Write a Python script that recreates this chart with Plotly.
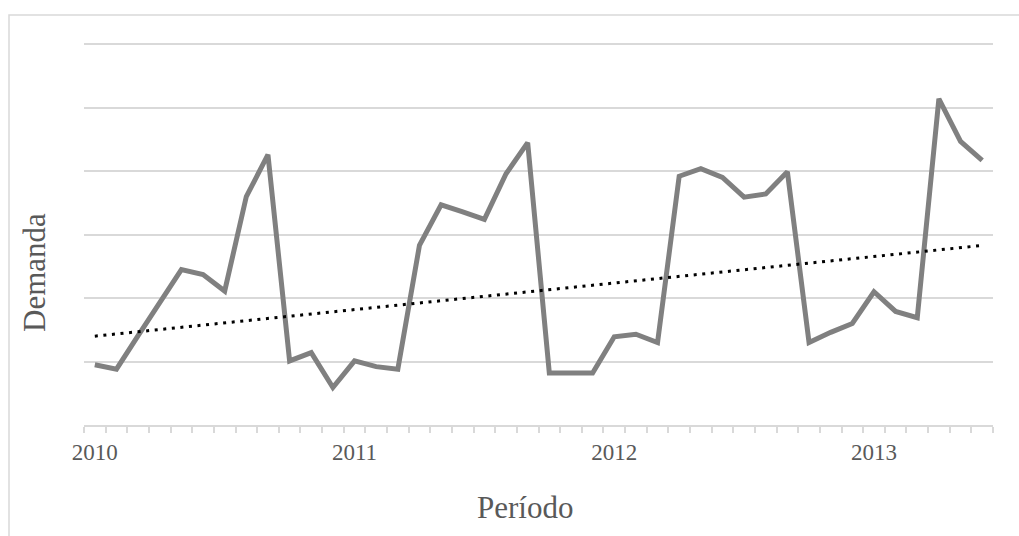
import plotly.graph_objects as go

# Monthly demand, Jan 2010 .. Jun 2013 (42 months)
demanda = [95, 88, 141, 193, 245, 237, 211, 360, 426, 101, 114, 59,
           101, 92, 88, 283, 347, 336, 324, 396, 445, 82, 82, 82,
           139, 143, 130, 392, 404, 390, 359, 364, 399, 130, 146, 160,
           210, 179, 169, 514, 447, 417]
meses = list(range(1, len(demanda) + 1))
anos = ["2010", "2011", "2012", "2013"]
ano_pos = [1, 13, 25, 37]

# linear trendline, end values
tendencia_x = [1, len(demanda)]
tendencia_y = [140, 283]

FONT = "Liberation Serif, Times New Roman, serif"
GRID = "#d9d9d9"
TXT = "#595959"

fig = go.Figure()
fig.add_trace(go.Scatter(x=meses, y=demanda, mode="lines",
                         line=dict(color="#808080", width=5),
                         showlegend=False))
fig.add_trace(go.Scatter(x=tendencia_x, y=tendencia_y, mode="lines",
                         line=dict(color="black", width=3, dash="3px,5.6px"),
                         showlegend=False))

fig.update_layout(
    width=1019, height=536,
    margin=dict(l=84, r=26, t=43, b=111),
    paper_bgcolor="white", plot_bgcolor="white",
    font=dict(family=FONT, color=TXT),
    xaxis=dict(range=[0.5, len(demanda) + 0.5], tickvals=ano_pos, ticktext=anos,
               ticks="", showgrid=False, zeroline=False,
               showline=True, linecolor=GRID, linewidth=1.5,
               ticklabelstandoff=6,
               tickfont=dict(size=23, family=FONT, color=TXT),
               minor=dict(tickvals=[m - 0.5 for m in meses] + [len(demanda) + 0.5],
                          ticks="outside", ticklen=6, tickcolor=GRID, tickwidth=1.5,
                          showgrid=False)),
    yaxis=dict(range=[0, 602], dtick=100, showticklabels=False, ticks="",
               showgrid=True, gridcolor=GRID, gridwidth=1.5, zeroline=False,
               showline=False),
    annotations=[
        dict(text="Demanda", xref="paper", yref="paper",
             x=(34 - 84) / 909, y=(425 - 273) / 382, textangle=-90,
             showarrow=False, font=dict(size=31, family=FONT, color=TXT),
             xanchor="center", yanchor="middle"),
        dict(text="Período", xref="paper", yref="paper",
             x=(525 - 84) / 909, y=(425 - 507) / 382,
             showarrow=False, font=dict(size=31, family=FONT, color=TXT),
             xanchor="center", yanchor="middle"),
    ],
    shapes=[dict(type="rect", xref="paper", yref="paper",
                 x0=(9 - 84) / 909, x1=1.1, y0=-0.5, y1=1 + (43 - 15) / 382,
                 line=dict(color=GRID, width=1.5), layer="below")],
)

fig.write_html("out.html")
